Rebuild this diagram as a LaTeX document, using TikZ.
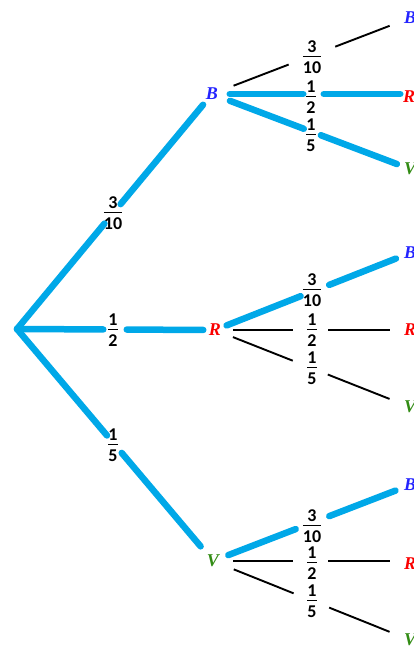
\documentclass[tikz,border=0pt]{standalone}
\usepackage{fontspec}
\setmainfont{Carlito}
\newfontfamily\letterfont{Liberation Serif}
\usetikzlibrary{calc}
\definecolor{lineblue}{RGB}{0,168,232}
\definecolor{letblue}{RGB}{35,35,255}
\definecolor{letred}{RGB}{250,0,0}
\definecolor{letgreen}{RGB}{50,140,20}
\newcommand\myfr[2]{{\renewcommand\arraystretch{0}\setlength\arrayrulewidth{1.1pt}%
\begin{tabular}{@{}c@{}}\rule[-3.5pt]{0pt}{12pt}#1\\\hline\rule{0pt}{16pt}#2\end{tabular}}}
\begin{document}
\begin{tikzpicture}[x=1pt,y=-1pt,
  letter/.style={inner sep=0pt,font=\fontsize{18}{18}\selectfont\letterfont\bfseries\itshape},
  lb/.style={letter,text=letblue},
  lr/.style={letter,text=letred},
  lv/.style={letter,text=letgreen},
  frac/.style={inner sep=0pt,font=\fontsize{18}{18}\selectfont\bfseries},
  blueline/.style={draw=lineblue,line width=6.5pt,line cap=round},
  blackline/.style={draw=black,line width=1.9pt}]
\clip (0,0) rectangle (414,648);
\fill[white] (0,0) rectangle (414,648);
% nodes
\coordinate (root) at (17,329);
\node[lb] (B1) at (212,94) {B};
\node[lr] (R1) at (215,330) {R};
\node[lv] (V1) at (213,561) {V};
\node[lb] (BB) at (410,18) {B};
\node[lr] (BR) at (409,97) {R};
\node[lv] (BV) at (410,169) {V};
\node[lb] (RB) at (410,253) {B};
\node[lr] (RR) at (410,330) {R};
\node[lv] (RV) at (410,407) {V};
\node[lb] (VB) at (410,485) {B};
\node[lr] (VR) at (410,564) {R};
\node[lv] (VV) at (410,640) {V};
% midpoints on the connectors
\coordinate (m1) at (113,213.3);
\coordinate (m2) at (113,329.5);
\coordinate (m3) at (113,442.6);
\coordinate (m4) at (312,55.6);
\coordinate (m5) at (312,94);
\coordinate (m6) at (311,131.5);
\coordinate (m7) at (312,291.7);
\coordinate (m8) at (312,330);
\coordinate (m9) at (312,368.3);
\coordinate (m10) at (312,522.8);
\coordinate (m11) at (312,561);
\coordinate (m12) at (312,600.7);
% labels
\node[frac] (f1) at (113,213) {\myfr{3}{10}};
\node[frac] (f2) at (113,330) {\myfr{1}{2}};
\node[frac] (f3) at (113,445) {\myfr{1}{5}};
\node[frac] (f4) at (312,57) {\myfr{3}{10}};
\node[frac] (f5) at (311,97) {\myfr{1}{2}};
\node[frac] (f6) at (311,135) {\myfr{1}{5}};
\node[frac] (f7) at (312,290) {\myfr{3}{10}};
\node[frac] (f8) at (312,330) {\myfr{1}{2}};
\node[frac] (f9) at (312,368) {\myfr{1}{5}};
\node[frac] (f10) at (312,526) {\myfr{3}{10}};
\node[frac] (f11) at (312,563) {\myfr{1}{2}};
\node[frac] (f12) at (312,601) {\myfr{1}{5}};
% level 1
\draw[blueline,shorten >=13.4pt] (root) -- (m1);
\draw[blueline,shorten <=11.9pt,shorten >=14pt] (m1) -- (B1.center);
\draw[blueline,shorten >=9.75pt] (root) -- (m2);
\draw[blueline,shorten <=13.75pt,shorten >=11.75pt] (m2) -- (R1.center);
\draw[blueline,shorten >=9.3pt] (root) -- (m3);
\draw[blueline,shorten <=13.5pt,shorten >=19.2pt] (m3) -- (V1.center);
% from B
\draw[blackline,shorten <=23.1pt,shorten >=25pt] (B1.center) -- (m4);
\draw[blackline,shorten <=24.9pt,shorten >=21.8pt] (m4) -- (BB.center);
\draw[blueline,shorten <=17.75pt,shorten >=8.75pt] (B1.center) -- (m5);
\draw[blueline,shorten <=11.75pt,shorten >=8.75pt] (m5) -- (BR.center |- B1.center);
\draw[blueline,shorten <=19.2pt,shorten >=7.75pt] (B1.center) -- (m6);
\draw[blueline,shorten <=10.5pt,shorten >=14pt] (m6) -- (BV.center);
% from R
\draw[blueline,shorten <=12.4pt,shorten >=12.2pt] (R1.center) -- (m7);
\draw[blueline,shorten <=18.5pt,shorten >=15.1pt] (m7) -- (RB.center);
\draw[blackline,shorten <=18pt,shorten >=19pt] (R1.center) -- (m8);
\draw[blackline,shorten <=16pt,shorten >=20pt] (m8) -- (RR.center);
\draw[blackline,shorten <=19.3pt,shorten >=20.7pt] (R1.center) -- (m9);
\draw[blackline,shorten <=17pt,shorten >=22pt] (m9) -- (RV.center);
% from V
\draw[blueline,shorten <=16.4pt,shorten >=17.5pt] (V1.center) -- (m10);
\draw[blueline,shorten <=18.5pt,shorten >=15.6pt] (m10) -- (VB.center);
\draw[blackline,shorten <=20pt,shorten >=19pt] (V1.center) -- (m11);
\draw[blackline,shorten <=16pt,shorten >=20pt] (m11) -- (VR.center |- V1.center);
\draw[blackline,shorten <=22.4pt,shorten >=19.8pt] (V1.center) -- (m12);
\draw[blackline,shorten <=18.5pt,shorten >=22pt] (m12) -- (VV.center);
\end{tikzpicture}
\end{document}
